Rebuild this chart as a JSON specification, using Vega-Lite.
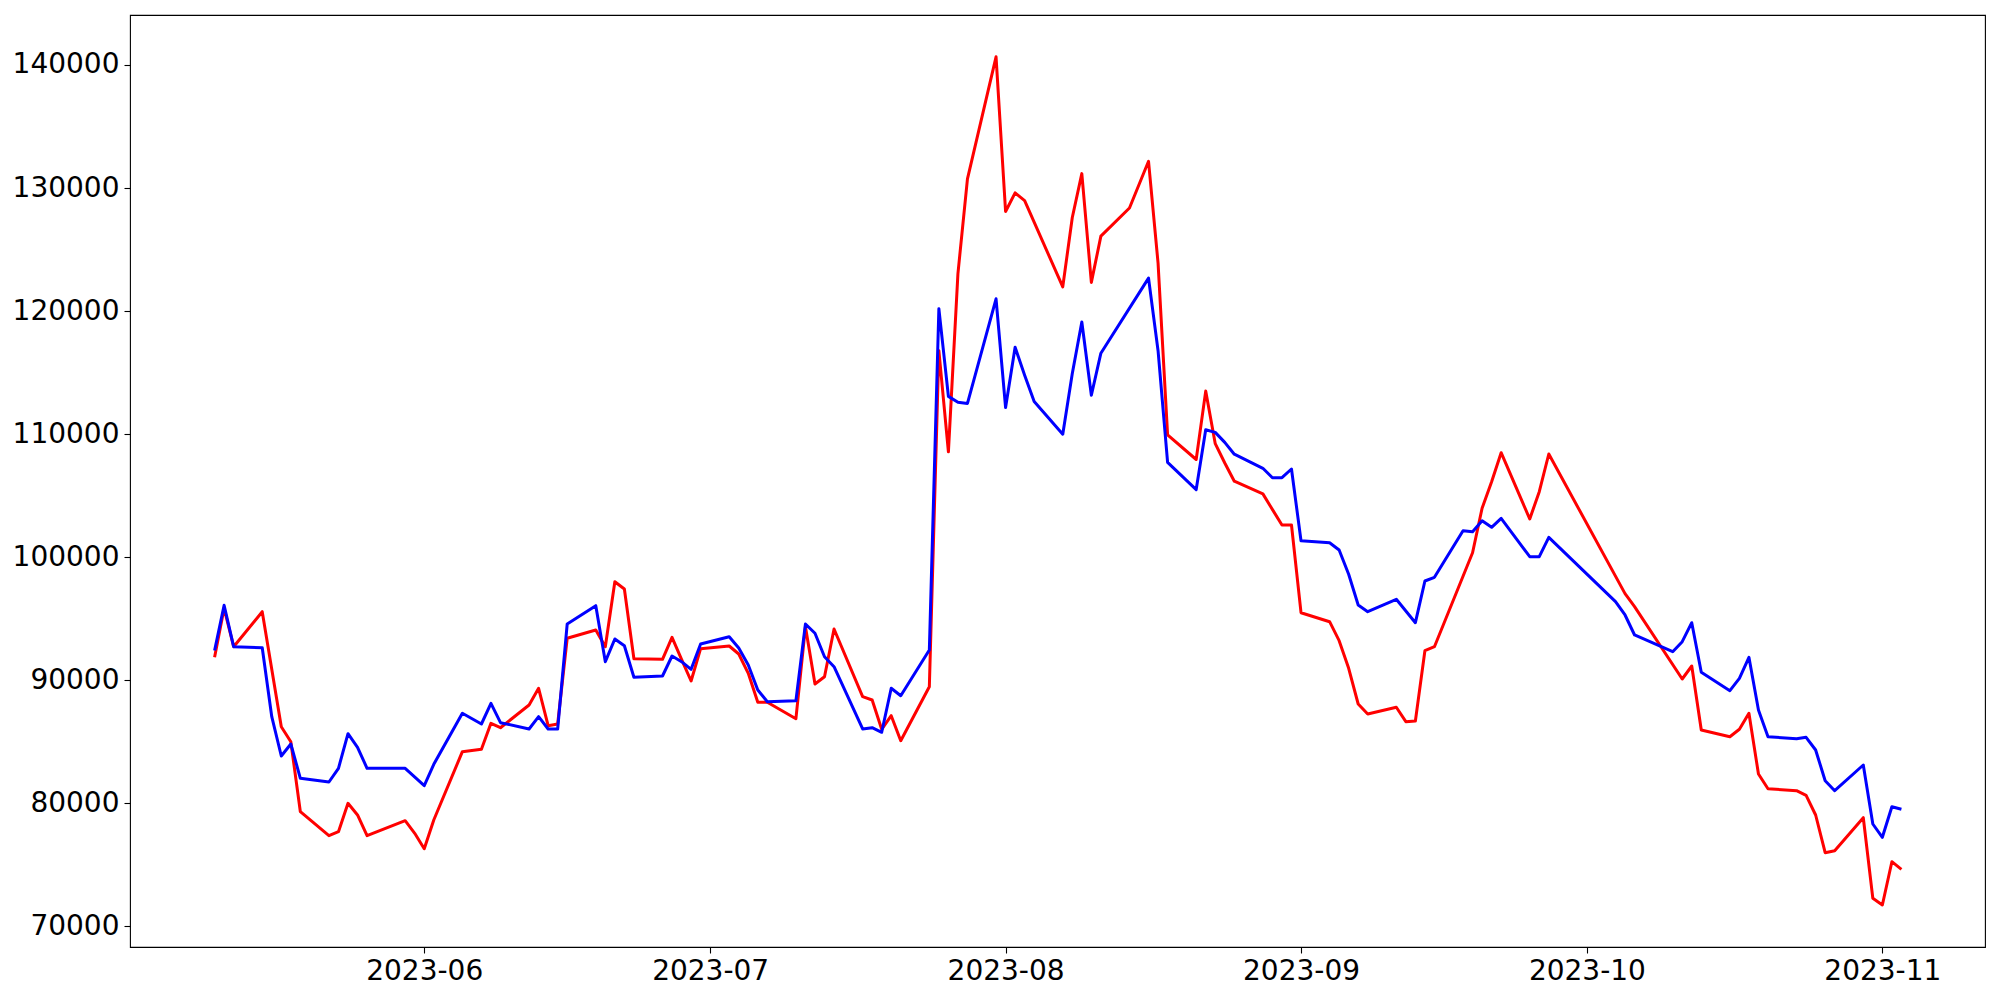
{
  "$schema": "https://vega.github.io/schema/vega-lite/v6.json",
  "width": 1855,
  "height": 932,
  "autosize": {"type": "none"},
  "padding": {"left": 130, "top": 15, "right": 15, "bottom": 53},
  "background": "white",
  "datasets": {
    "red": [
      {"date": "2023-05-10", "value": 91846}, {"date": "2023-05-11", "value": 95830}, {"date": "2023-05-12", "value": 92708},
      {"date": "2023-05-15", "value": 95553}, {"date": "2023-05-17", "value": 86204}, {"date": "2023-05-18", "value": 84984},
      {"date": "2023-05-19", "value": 79293}, {"date": "2023-05-22", "value": 77342}, {"date": "2023-05-23", "value": 77667},
      {"date": "2023-05-24", "value": 79976}, {"date": "2023-05-25", "value": 79025}, {"date": "2023-05-26", "value": 77342},
      {"date": "2023-05-30", "value": 78562}, {"date": "2023-05-31", "value": 77537}, {"date": "2023-06-01", "value": 76285},
      {"date": "2023-06-02", "value": 78618}, {"date": "2023-06-05", "value": 84171}, {"date": "2023-06-07", "value": 84366},
      {"date": "2023-06-08", "value": 86480}, {"date": "2023-06-09", "value": 86122}, {"date": "2023-06-12", "value": 87968},
      {"date": "2023-06-13", "value": 89326}, {"date": "2023-06-14", "value": 86285}, {"date": "2023-06-15", "value": 86423},
      {"date": "2023-06-16", "value": 93391}, {"date": "2023-06-19", "value": 94065}, {"date": "2023-06-20", "value": 92708},
      {"date": "2023-06-21", "value": 97992}, {"date": "2023-06-22", "value": 97399}, {"date": "2023-06-23", "value": 91732},
      {"date": "2023-06-26", "value": 91683}, {"date": "2023-06-27", "value": 93472}, {"date": "2023-06-28", "value": 91683},
      {"date": "2023-06-29", "value": 89919}, {"date": "2023-06-30", "value": 92545}, {"date": "2023-07-03", "value": 92765},
      {"date": "2023-07-04", "value": 92114}, {"date": "2023-07-05", "value": 90545}, {"date": "2023-07-06", "value": 88188},
      {"date": "2023-07-07", "value": 88188}, {"date": "2023-07-10", "value": 86854}, {"date": "2023-07-11", "value": 94334},
      {"date": "2023-07-12", "value": 89675}, {"date": "2023-07-13", "value": 90269}, {"date": "2023-07-14", "value": 94147},
      {"date": "2023-07-17", "value": 88643}, {"date": "2023-07-18", "value": 88374}, {"date": "2023-07-19", "value": 85992},
      {"date": "2023-07-20", "value": 87098}, {"date": "2023-07-21", "value": 85066}, {"date": "2023-07-24", "value": 89456},
      {"date": "2023-07-25", "value": 116773}, {"date": "2023-07-26", "value": 108553}, {"date": "2023-07-27", "value": 123041},
      {"date": "2023-07-28", "value": 130740}, {"date": "2023-07-31", "value": 140667}, {"date": "2023-08-01", "value": 128090},
      {"date": "2023-08-02", "value": 129602}, {"date": "2023-08-03", "value": 128976}, {"date": "2023-08-07", "value": 121960},
      {"date": "2023-08-08", "value": 127602}, {"date": "2023-08-09", "value": 131171}, {"date": "2023-08-10", "value": 122325},
      {"date": "2023-08-11", "value": 126090}, {"date": "2023-08-14", "value": 128374}, {"date": "2023-08-16", "value": 132171},
      {"date": "2023-08-17", "value": 123895}, {"date": "2023-08-18", "value": 109927}, {"date": "2023-08-21", "value": 107927},
      {"date": "2023-08-22", "value": 113488}, {"date": "2023-08-23", "value": 109212}, {"date": "2023-08-24", "value": 107643},
      {"date": "2023-08-25", "value": 106163}, {"date": "2023-08-28", "value": 105130}, {"date": "2023-08-30", "value": 102600},
      {"date": "2023-08-31", "value": 102600}, {"date": "2023-09-01", "value": 95472}, {"date": "2023-09-04", "value": 94740},
      {"date": "2023-09-05", "value": 93196}, {"date": "2023-09-06", "value": 90952}, {"date": "2023-09-07", "value": 88049},
      {"date": "2023-09-08", "value": 87236}, {"date": "2023-09-11", "value": 87781}, {"date": "2023-09-12", "value": 86610},
      {"date": "2023-09-13", "value": 86664}, {"date": "2023-09-14", "value": 92383}, {"date": "2023-09-15", "value": 92708},
      {"date": "2023-09-19", "value": 100350}, {"date": "2023-09-20", "value": 103960}, {"date": "2023-09-21", "value": 106122},
      {"date": "2023-09-22", "value": 108480}, {"date": "2023-09-25", "value": 103090}, {"date": "2023-09-26", "value": 105309},
      {"date": "2023-09-27", "value": 108374}, {"date": "2023-10-05", "value": 97020}, {"date": "2023-10-06", "value": 95960},
      {"date": "2023-10-11", "value": 90082}, {"date": "2023-10-12", "value": 91139}, {"date": "2023-10-13", "value": 85935},
      {"date": "2023-10-16", "value": 85391}, {"date": "2023-10-17", "value": 85992}, {"date": "2023-10-18", "value": 87293},
      {"date": "2023-10-19", "value": 82358}, {"date": "2023-10-20", "value": 81163}, {"date": "2023-10-23", "value": 81000},
      {"date": "2023-10-24", "value": 80627}, {"date": "2023-10-25", "value": 79025}, {"date": "2023-10-26", "value": 75960},
      {"date": "2023-10-27", "value": 76123}, {"date": "2023-10-30", "value": 78805}, {"date": "2023-10-31", "value": 72253},
      {"date": "2023-11-01", "value": 71708}, {"date": "2023-11-02", "value": 75228}, {"date": "2023-11-03", "value": 74610}
    ],
    "blue": [
      {"date": "2023-05-10", "value": 92400}, {"date": "2023-05-11", "value": 96070}, {"date": "2023-05-12", "value": 92708},
      {"date": "2023-05-15", "value": 92626}, {"date": "2023-05-16", "value": 87017}, {"date": "2023-05-17", "value": 83822},
      {"date": "2023-05-18", "value": 84797}, {"date": "2023-05-19", "value": 82009}, {"date": "2023-05-22", "value": 81708},
      {"date": "2023-05-23", "value": 82822}, {"date": "2023-05-24", "value": 85635}, {"date": "2023-05-25", "value": 84529},
      {"date": "2023-05-26", "value": 82822}, {"date": "2023-05-30", "value": 82822}, {"date": "2023-06-01", "value": 81407},
      {"date": "2023-06-02", "value": 83144}, {"date": "2023-06-05", "value": 87293}, {"date": "2023-06-07", "value": 86423},
      {"date": "2023-06-08", "value": 88106}, {"date": "2023-06-09", "value": 86531}, {"date": "2023-06-12", "value": 86016},
      {"date": "2023-06-13", "value": 87016}, {"date": "2023-06-14", "value": 86016}, {"date": "2023-06-15", "value": 86016},
      {"date": "2023-06-16", "value": 94553}, {"date": "2023-06-19", "value": 96041}, {"date": "2023-06-20", "value": 91488},
      {"date": "2023-06-21", "value": 93334}, {"date": "2023-06-22", "value": 92789}, {"date": "2023-06-23", "value": 90220},
      {"date": "2023-06-26", "value": 90326}, {"date": "2023-06-27", "value": 91952}, {"date": "2023-06-28", "value": 91488},
      {"date": "2023-06-29", "value": 90870}, {"date": "2023-06-30", "value": 92927}, {"date": "2023-07-03", "value": 93521},
      {"date": "2023-07-04", "value": 92602}, {"date": "2023-07-05", "value": 91220}, {"date": "2023-07-06", "value": 89187},
      {"date": "2023-07-07", "value": 88236}, {"date": "2023-07-10", "value": 88318}, {"date": "2023-07-11", "value": 94553},
      {"date": "2023-07-12", "value": 93797}, {"date": "2023-07-13", "value": 91895}, {"date": "2023-07-14", "value": 91082},
      {"date": "2023-07-17", "value": 86017}, {"date": "2023-07-18", "value": 86122}, {"date": "2023-07-19", "value": 85749},
      {"date": "2023-07-20", "value": 89326}, {"date": "2023-07-21", "value": 88724}, {"date": "2023-07-24", "value": 92439},
      {"date": "2023-07-25", "value": 120187}, {"date": "2023-07-26", "value": 113057}, {"date": "2023-07-27", "value": 112578},
      {"date": "2023-07-28", "value": 112488}, {"date": "2023-07-31", "value": 120992}, {"date": "2023-08-01", "value": 112147},
      {"date": "2023-08-02", "value": 117057}, {"date": "2023-08-03", "value": 114773}, {"date": "2023-08-04", "value": 112634},
      {"date": "2023-08-07", "value": 109984}, {"date": "2023-08-08", "value": 114919}, {"date": "2023-08-09", "value": 119106},
      {"date": "2023-08-10", "value": 113147}, {"date": "2023-08-11", "value": 116569}, {"date": "2023-08-16", "value": 122675},
      {"date": "2023-08-17", "value": 116773}, {"date": "2023-08-18", "value": 107700}, {"date": "2023-08-21", "value": 105480},
      {"date": "2023-08-22", "value": 110340}, {"date": "2023-08-23", "value": 110130}, {"date": "2023-08-24", "value": 109320},
      {"date": "2023-08-25", "value": 108358}, {"date": "2023-08-28", "value": 107212}, {"date": "2023-08-29", "value": 106447},
      {"date": "2023-08-30", "value": 106447}, {"date": "2023-08-31", "value": 107155}, {"date": "2023-09-01", "value": 101326},
      {"date": "2023-09-04", "value": 101163}, {"date": "2023-09-05", "value": 100569}, {"date": "2023-09-06", "value": 98594},
      {"date": "2023-09-07", "value": 96098}, {"date": "2023-09-08", "value": 95553}, {"date": "2023-09-11", "value": 96561},
      {"date": "2023-09-13", "value": 94659}, {"date": "2023-09-14", "value": 98049}, {"date": "2023-09-15", "value": 98350},
      {"date": "2023-09-18", "value": 102139}, {"date": "2023-09-19", "value": 102057}, {"date": "2023-09-20", "value": 102952},
      {"date": "2023-09-21", "value": 102415}, {"date": "2023-09-22", "value": 103147}, {"date": "2023-09-25", "value": 100025},
      {"date": "2023-09-26", "value": 100025}, {"date": "2023-09-27", "value": 101602}, {"date": "2023-10-04", "value": 96366},
      {"date": "2023-10-05", "value": 95285}, {"date": "2023-10-06", "value": 93659}, {"date": "2023-10-10", "value": 92301},
      {"date": "2023-10-11", "value": 93114}, {"date": "2023-10-12", "value": 94659}, {"date": "2023-10-13", "value": 90626},
      {"date": "2023-10-16", "value": 89131}, {"date": "2023-10-17", "value": 90139}, {"date": "2023-10-18", "value": 91846},
      {"date": "2023-10-19", "value": 87561}, {"date": "2023-10-20", "value": 85391}, {"date": "2023-10-23", "value": 85228},
      {"date": "2023-10-24", "value": 85342}, {"date": "2023-10-25", "value": 84309}, {"date": "2023-10-26", "value": 81814},
      {"date": "2023-10-27", "value": 81000}, {"date": "2023-10-30", "value": 83090}, {"date": "2023-10-31", "value": 78293},
      {"date": "2023-11-01", "value": 77212}, {"date": "2023-11-02", "value": 79700}, {"date": "2023-11-03", "value": 79488}
    ]
  },
  "encoding": {
    "x": {
      "field": "date",
      "type": "temporal",
      "title": null,
      "scale": {
        "type": "utc",
        "domain": [
          {"year": 2023, "month": 5, "date": 1, "hours": 3, "utc": true},
          {"year": 2023, "month": 11, "date": 11, "hours": 18, "minutes": 30, "utc": true}
        ]
      },
      "axis": {
        "values": [
          {"year": 2023, "month": 6, "date": 1, "utc": true},
          {"year": 2023, "month": 7, "date": 1, "utc": true},
          {"year": 2023, "month": 8, "date": 1, "utc": true},
          {"year": 2023, "month": 9, "date": 1, "utc": true},
          {"year": 2023, "month": 10, "date": 1, "utc": true},
          {"year": 2023, "month": 11, "date": 1, "utc": true}
        ],
        "format": "%Y-%m",
        "labelPadding": 4
      }
    },
    "y": {
      "field": "value",
      "type": "quantitative",
      "title": null,
      "scale": {"domain": [68293, 144065], "zero": false, "nice": false},
      "axis": {
        "values": [70000, 80000, 90000, 100000, 110000, 120000, 130000, 140000],
        "format": "d",
        "labelPadding": 5
      }
    }
  },
  "layer": [
    {
      "data": {"name": "red"},
      "mark": {"type": "line", "color": "#ff0000", "strokeWidth": 3, "strokeJoin": "round", "clip": true}
    },
    {
      "data": {"name": "blue"},
      "mark": {"type": "line", "color": "#0000ff", "strokeWidth": 3, "strokeJoin": "round", "clip": true}
    }
  ],
  "config": {
    "view": {"stroke": "black", "strokeWidth": 1.1},
    "axis": {
      "domain": false,
      "grid": false,
      "ticks": true,
      "tickColor": "black",
      "tickSize": 6,
      "tickWidth": 1.1,
      "labelColor": "black",
      "labelFont": "DejaVu Sans",
      "labelFontSize": 28,
      "labelOverlap": false
    }
  }
}
